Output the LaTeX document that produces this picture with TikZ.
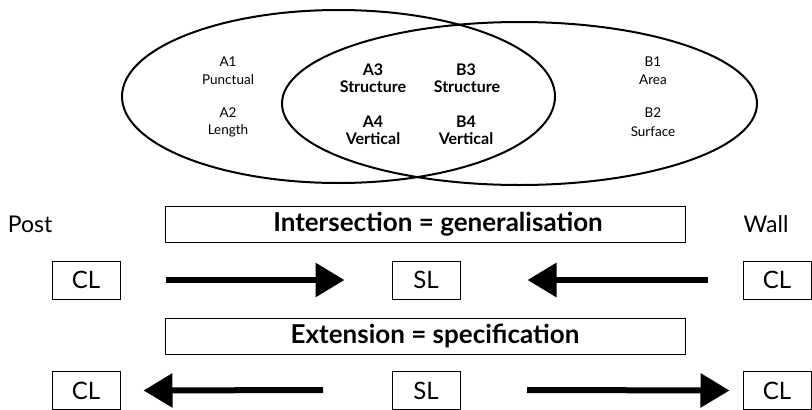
\documentclass[tikz,border=0pt]{standalone}
\usepackage{fontspec}
\setmainfont{Lato}
\usetikzlibrary{arrows.meta}
\begin{document}
\begin{tikzpicture}[x=1pt,y=-1pt,
  small/.style={font=\fontsize{13.5}{15}\selectfont, inner sep=0pt},
  bold/.style={font=\fontsize{16}{18}\selectfont\bfseries, inner sep=0pt},
  lbl/.style={font=\fontsize{23}{26}\selectfont, inner sep=0pt},
  banner/.style={draw, line width=1pt, minimum width=520pt, minimum height=36pt, inner sep=0pt, font=\fontsize{26}{28}\selectfont\bfseries},
  cl/.style={draw, line width=1pt, minimum width=68pt, minimum height=38pt, inner sep=0pt, font=\fontsize{24}{26}\selectfont},
  bigarrow/.style={line width=6pt, -{Triangle[length=29pt,width=33pt]}},
  ell/.style={line width=2pt}]
\useasboundingbox (0,0) rectangle (812,410);
% ellipses
\draw[ell] (338.5,96.5) ellipse [x radius=216.5, y radius=86.5];
\draw[ell] (519.5,103.5) ellipse [x radius=237.5, y radius=81.5];
% left texts
\node[small] (a1) at (228,62) {A1};
\node[small] (a1t) at (228,80) {Punctual};
\node[small] (a2) at (228,113) {A2};
\node[small] (a2t) at (228,131) {Length};
% middle
\node[bold] (a3) at (373,70) {A3};
\node[bold] (a3t) at (373,87) {Structure};
\node[bold] (b3) at (466,70) {B3};
\node[bold] (b3t) at (467,87) {Structure};
\node[bold] (a4) at (373,122) {A4};
\node[bold] (a4t) at (373,139) {Vertical};
\node[bold] (b4) at (466,122) {B4};
\node[bold] (b4t) at (466,139) {Vertical};
% right
\node[small] (b1) at (653,62) {B1};
\node[small] (b1t) at (653,80) {Area};
\node[small] (b2) at (653,113) {B2};
\node[small] (b2t) at (653,132) {Surface};
% bottom
\node[lbl] (post) at (30,224) {Post};
\node[lbl] (wall) at (766,224) {Wall};
\node[banner] (inter) at (425,224.5) {\hspace*{26pt}Intersection = generalisation};
\node[banner] (ext) at (425,336) {\hspace*{20pt}Extension = specification};
\node[cl] (cl1) at (86,280) {CL};
\node[cl] (sl1) at (426,280) {SL};
\node[cl] (cr1) at (777,280) {CL};
\node[cl] (cl2) at (86,390.5) {CL};
\node[cl] (sl2) at (426,390.5) {SL};
\node[cl] (cr2) at (777,390.5) {CL};
\coordinate (p1) at (166,280);
\coordinate (p2) at (708,280);
\coordinate (p3) at (323,390);
\coordinate (p4) at (527,390);
\draw[bigarrow] (p1) -- ([xshift=-47pt]sl1.west);
\draw[bigarrow] (p2) -- ([xshift=67pt]sl1.east);
\draw[bigarrow] (p3) -- ([xshift=23pt]cl2.east);
\draw[bigarrow] (p4) -- ([xshift=-13pt]cr2.west);
\end{tikzpicture}
\end{document}
